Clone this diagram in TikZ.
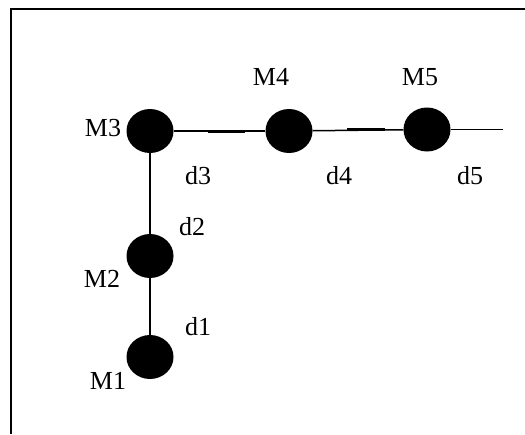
\documentclass[tikz,border=0pt]{standalone}
\usepackage{fontspec}
\setmainfont{Liberation Serif}
\usetikzlibrary{shapes.geometric}

\begin{document}
\begin{tikzpicture}[ % pixel units, y downwards
        x=1pt, y=-1pt,
        mass/.style={ellipse, fill=black, minimum width=47pt, minimum height=44pt, inner sep=0pt}, % the balls
        lbl/.style={font=\fontsize{26}{28}\selectfont, inner sep=0pt}, % labels
        rod/.style={line width=1.5pt}, % connecting rods
        thickrod/.style={line width=3pt} % short thick pieces on the rods
    ]
    \useasboundingbox (0,0) rectangle (525,434);
    % --- frame (open at the bottom and right) ---
    \draw[line width=2pt] (11,434) -- (11,9) -- (525,9);
    % --- masses ---
    \node (M1) [mass] at (150,357) {};
    \node (M2) [mass] at (150,256) {};
    \node (M3) [mass] at (150,131) {};
    \node (M4) [mass] at (289,131) {};
    \node (M5) [mass] at (427,129.5) {};
    \coordinate (end) at (503,129.5);
    % --- labels ---
    \node (lM1) [lbl] at (108,381) {M1};
    \node (lM2) [lbl] at (102,279) {M2};
    \node (lM3) [lbl] at (103,128) {M3};
    \node (lM4) [lbl] at (271,77) {M4};
    \node (lM5) [lbl] at (420,77) {M5};
    \node (ld1) [lbl] at (198,327) {d1};
    \node (ld2) [lbl] at (192,227) {d2};
    \node (ld3) [lbl] at (198,176) {d3};
    \node (ld4) [lbl] at (339,176) {d4};
    \node (ld5) [lbl] at (470,176) {d5};
    % --- rods ---
    \draw[rod] (M1) -- (M2);
    \draw[rod] (M2) -- (M3);
    \draw[rod] (M3) -- (M4);
    \draw[rod] (M4) -- (M5);
    \draw[rod] (M5) -- (end);
    \coordinate (a1) at (208,131.5);
    \coordinate (b1) at (245,131.5);
    \coordinate (a2) at (347,129.5);
    \coordinate (b2) at (385,129.5);
    \draw[thickrod] (a1) -- (b1);
    \draw[thickrod] (a2) -- (b2);
\end{tikzpicture}
\end{document}
